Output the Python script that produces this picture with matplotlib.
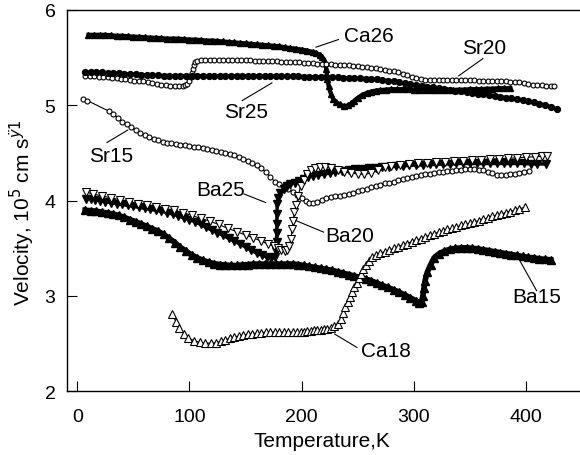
import numpy as np
import matplotlib
matplotlib.use("Agg")
import matplotlib.pyplot as plt

plt.rcParams['font.family'] = ['Liberation Sans', 'DejaVu Sans']

# Sound velocity vs temperature, (T [K], v [10^5 cm/s]) pairs per sample
ca26 = [(10, 5.74), (15, 5.74), (20, 5.74), (25, 5.74), (30, 5.735), (35, 5.73), (40, 5.73),
        (45, 5.725), (50, 5.72), (55, 5.72), (60, 5.715), (65, 5.71), (70, 5.71), (75, 5.705),
        (80, 5.70), (85, 5.70), (90, 5.70), (95, 5.695), (100, 5.69), (105, 5.69), (110, 5.685),
        (115, 5.68), (120, 5.68), (125, 5.675), (130, 5.67), (135, 5.665), (140, 5.66),
        (145, 5.655), (150, 5.65), (155, 5.645), (160, 5.64), (165, 5.635), (170, 5.63),
        (175, 5.625), (180, 5.62), (185, 5.61), (190, 5.60), (195, 5.595), (200, 5.585),
        (205, 5.575), (210, 5.56), (213, 5.55), (216, 5.53), (218, 5.51), (220, 5.48),
        (221, 5.44), (222, 5.38), (223, 5.28), (224, 5.20), (226, 5.12), (228, 5.07),
        (231, 5.03), (234, 5.01), (238, 4.99), (241, 5.00), (244, 5.02), (247, 5.05),
        (250, 5.08), (254, 5.11), (258, 5.13), (262, 5.145), (266, 5.155), (270, 5.16),
        (275, 5.165), (280, 5.17), (285, 5.17), (290, 5.17), (295, 5.17), (300, 5.165),
        (305, 5.165), (310, 5.16), (315, 5.16), (320, 5.16), (325, 5.16), (330, 5.16),
        (335, 5.16), (340, 5.165), (345, 5.165), (350, 5.17), (355, 5.17), (360, 5.17),
        (365, 5.175), (370, 5.175), (375, 5.18), (380, 5.18), (386, 5.18)]

sr20 = [(7, 5.31), (11, 5.31), (15, 5.305), (19, 5.30), (23, 5.30), (27, 5.295), (31, 5.29),
        (35, 5.285), (39, 5.28), (43, 5.275), (47, 5.27), (51, 5.26), (55, 5.255), (59, 5.25),
        (63, 5.24), (67, 5.235), (71, 5.225), (75, 5.215), (79, 5.21), (83, 5.205), (87, 5.20),
        (91, 5.20), (94, 5.205), (96, 5.21), (98, 5.225), (100, 5.26), (101, 5.30), (102, 5.34),
        (103, 5.38), (104, 5.42), (105, 5.45), (107, 5.47), (110, 5.475), (114, 5.48),
        (118, 5.48), (122, 5.48), (126, 5.48), (130, 5.48), (134, 5.48), (138, 5.478),
        (142, 5.476), (146, 5.475), (150, 5.474), (154, 5.472), (158, 5.47), (162, 5.468),
        (166, 5.466), (170, 5.464), (174, 5.462), (178, 5.46), (182, 5.458), (186, 5.456),
        (190, 5.454), (194, 5.452), (198, 5.45), (202, 5.447), (206, 5.444), (210, 5.44),
        (214, 5.437), (218, 5.434), (222, 5.432), (226, 5.43), (230, 5.428), (234, 5.426),
        (238, 5.424), (242, 5.42), (246, 5.416), (250, 5.412), (254, 5.407), (258, 5.402),
        (262, 5.396), (266, 5.39), (270, 5.382), (274, 5.374), (278, 5.365), (282, 5.355),
        (286, 5.345), (290, 5.333), (294, 5.318), (298, 5.30), (302, 5.283), (306, 5.272),
        (310, 5.268), (314, 5.267), (318, 5.267), (322, 5.266), (326, 5.266), (330, 5.265),
        (334, 5.265), (338, 5.265), (342, 5.265), (346, 5.264), (350, 5.263), (354, 5.262),
        (358, 5.26), (362, 5.255), (366, 5.25), (370, 5.25), (374, 5.252), (378, 5.252),
        (382, 5.25), (386, 5.248), (390, 5.245), (394, 5.24), (398, 5.232), (402, 5.225),
        (406, 5.218), (410, 5.213), (414, 5.208), (418, 5.205), (422, 5.202), (425, 5.20)]

sr25 = [(7, 5.35), (12, 5.35), (17, 5.345), (22, 5.345), (27, 5.34), (32, 5.34), (37, 5.335),
        (42, 5.33), (47, 5.33), (52, 5.325), (57, 5.32), (62, 5.32), (67, 5.315), (72, 5.315),
        (77, 5.31), (82, 5.31), (87, 5.31), (92, 5.31), (97, 5.31), (102, 5.31), (107, 5.31),
        (112, 5.31), (117, 5.31), (122, 5.31), (127, 5.31), (132, 5.31), (137, 5.31),
        (142, 5.31), (147, 5.31), (152, 5.31), (157, 5.31), (162, 5.31), (167, 5.31),
        (172, 5.305), (177, 5.305), (182, 5.305), (187, 5.305), (192, 5.305), (197, 5.305),
        (202, 5.30), (207, 5.30), (212, 5.30), (217, 5.30), (222, 5.298), (227, 5.295),
        (232, 5.293), (237, 5.29), (242, 5.288), (247, 5.286), (252, 5.283), (257, 5.28),
        (262, 5.276), (267, 5.272), (272, 5.266), (277, 5.258), (282, 5.25), (287, 5.241),
        (292, 5.232), (297, 5.223), (302, 5.214), (307, 5.205), (312, 5.196), (317, 5.188),
        (322, 5.18), (327, 5.172), (332, 5.163), (337, 5.155), (342, 5.147), (347, 5.139),
        (352, 5.131), (357, 5.123), (362, 5.115), (367, 5.107), (372, 5.099), (377, 5.09),
        (382, 5.082), (387, 5.073), (392, 5.064), (397, 5.054), (402, 5.043), (407, 5.031),
        (412, 5.018), (417, 5.002), (422, 4.985), (428, 4.96)]

sr15 = [(5, 5.07), (9, 5.05), (28, 4.94), (32, 4.91), (36, 4.87), (40, 4.83), (44, 4.80),
        (48, 4.77), (52, 4.74), (56, 4.71), (60, 4.69), (64, 4.67), (68, 4.65), (72, 4.635),
        (76, 4.62), (80, 4.61), (84, 4.60), (88, 4.59), (92, 4.585), (96, 4.58), (100, 4.575),
        (104, 4.565), (108, 4.56), (112, 4.55), (116, 4.54), (120, 4.53), (124, 4.52),
        (128, 4.51), (132, 4.50), (136, 4.49), (140, 4.475), (144, 4.46), (148, 4.44),
        (152, 4.42), (156, 4.39), (160, 4.37), (164, 4.34), (168, 4.30), (172, 4.25),
        (176, 4.20), (180, 4.17), (184, 4.15), (188, 4.12), (192, 4.09), (196, 4.06),
        (200, 4.03), (204, 4.00), (207, 3.98), (210, 3.975), (214, 3.99), (218, 4.01),
        (222, 4.03), (226, 4.04), (230, 4.045), (234, 4.05), (238, 4.055), (242, 4.07),
        (246, 4.085), (250, 4.10), (254, 4.11), (258, 4.125), (262, 4.14), (266, 4.15),
        (270, 4.165), (274, 4.18), (278, 4.19), (282, 4.20), (286, 4.215), (290, 4.225),
        (294, 4.235), (298, 4.245), (302, 4.255), (306, 4.265), (310, 4.275), (314, 4.28),
        (318, 4.29), (322, 4.30), (326, 4.305), (330, 4.31), (334, 4.315), (338, 4.32),
        (342, 4.325), (346, 4.33), (350, 4.33), (354, 4.33), (358, 4.325), (362, 4.32),
        (366, 4.30), (370, 4.285), (374, 4.27), (378, 4.265), (382, 4.27), (386, 4.275),
        (390, 4.28), (394, 4.29), (398, 4.30), (403, 4.31)]

ba25 = [(8, 4.02), (12, 4.02), (16, 4.01), (20, 4.00), (25, 3.99), (30, 3.98), (35, 3.97),
        (40, 3.96), (45, 3.95), (50, 3.94), (55, 3.93), (60, 3.92), (65, 3.91), (70, 3.90),
        (75, 3.89), (80, 3.875), (85, 3.86), (90, 3.84), (95, 3.82), (100, 3.80), (105, 3.78),
        (110, 3.75), (115, 3.72), (120, 3.69), (125, 3.665), (130, 3.635), (135, 3.605),
        (140, 3.575), (145, 3.545), (150, 3.515), (155, 3.48), (160, 3.45), (165, 3.425),
        (169, 3.41), (173, 3.40), (176, 3.41), (177.5, 3.47), (177.7, 3.57), (177.8, 3.66),
        (177.9, 3.76), (178, 3.86), (178.2, 3.96), (179, 4.03), (181, 4.08), (184, 4.12),
        (187, 4.15), (190, 4.17), (194, 4.19), (198, 4.21), (202, 4.23), (206, 4.245),
        (210, 4.26), (215, 4.27), (220, 4.28), (225, 4.29), (230, 4.30), (236, 4.31),
        (242, 4.32), (248, 4.33), (254, 4.335), (260, 4.34), (266, 4.345), (272, 4.35),
        (278, 4.355), (284, 4.36), (290, 4.365), (296, 4.37), (302, 4.375), (308, 4.375),
        (314, 4.38), (320, 4.38), (326, 4.385), (332, 4.385), (338, 4.39), (344, 4.39),
        (350, 4.39), (356, 4.39), (362, 4.39), (368, 4.39), (374, 4.39), (380, 4.39),
        (386, 4.39), (392, 4.39), (398, 4.39), (404, 4.385), (410, 4.385), (418, 4.385)]

ba20 = [(8, 4.09), (14, 4.07), (22, 4.05), (30, 4.03), (38, 4.01), (46, 3.99), (54, 3.97),
        (62, 3.95), (70, 3.935), (78, 3.915), (86, 3.90), (94, 3.875), (102, 3.845),
        (110, 3.815), (118, 3.785), (126, 3.75), (134, 3.71), (142, 3.675), (150, 3.64),
        (157, 3.61), (164, 3.575), (170, 3.545), (175, 3.52), (179, 3.50), (182, 3.485),
        (185, 3.47), (187, 3.48), (189, 3.52), (190.5, 3.60), (191.5, 3.70), (192.5, 3.79),
        (193.5, 3.88), (195, 3.95), (197, 4.05), (199, 4.15), (202, 4.22), (205, 4.28),
        (208, 4.32), (212, 4.34), (216, 4.35), (221, 4.35), (226, 4.34), (232, 4.32),
        (238, 4.30), (244, 4.29), (250, 4.28), (256, 4.275), (262, 4.29), (268, 4.32),
        (274, 4.35), (280, 4.365), (288, 4.375), (296, 4.385), (304, 4.39), (312, 4.40),
        (320, 4.405), (328, 4.41), (336, 4.415), (344, 4.42), (352, 4.425), (360, 4.43),
        (368, 4.435), (376, 4.44), (384, 4.445), (392, 4.45), (400, 4.455), (408, 4.46),
        (414, 4.465), (419, 4.47)]

ba15 = [(7, 3.90), (12, 3.895), (17, 3.89), (22, 3.88), (27, 3.87), (32, 3.86), (37, 3.845),
        (42, 3.825), (47, 3.80), (52, 3.78), (57, 3.755), (62, 3.73), (67, 3.705), (72, 3.68),
        (77, 3.645), (82, 3.605), (87, 3.56), (92, 3.51), (97, 3.47), (102, 3.43), (107, 3.40),
        (112, 3.375), (117, 3.355), (122, 3.34), (127, 3.33), (132, 3.325), (137, 3.32),
        (142, 3.32), (147, 3.325), (152, 3.33), (157, 3.335), (162, 3.335), (167, 3.335),
        (172, 3.335), (177, 3.335), (182, 3.335), (187, 3.335), (192, 3.335), (197, 3.33),
        (202, 3.32), (207, 3.31), (212, 3.30), (217, 3.29), (222, 3.28), (227, 3.27),
        (232, 3.255), (237, 3.24), (242, 3.225), (247, 3.21), (252, 3.195), (257, 3.18),
        (262, 3.16), (267, 3.135), (272, 3.11), (277, 3.09), (282, 3.065), (287, 3.04),
        (292, 3.01), (297, 2.98), (302, 2.95), (305, 2.93), (307, 2.935), (308, 3.00),
        (309, 3.08), (310, 3.16), (312, 3.25), (315, 3.33), (318, 3.40), (322, 3.44),
        (327, 3.47), (332, 3.49), (337, 3.50), (342, 3.505), (347, 3.505), (352, 3.50),
        (357, 3.495), (362, 3.485), (367, 3.475), (372, 3.465), (377, 3.455), (382, 3.445),
        (387, 3.435), (392, 3.425), (397, 3.415), (402, 3.405), (407, 3.40), (412, 3.39),
        (417, 3.385), (422, 3.38)]

ca18 = [(84.7, 2.81), (88, 2.73), (91, 2.66), (95, 2.60), (99, 2.56), (104, 2.53),
        (109, 2.515), (114, 2.505), (119, 2.505), (124, 2.51), (128, 2.525), (132, 2.54),
        (136, 2.555), (140, 2.57), (144, 2.58), (148, 2.59), (152, 2.60), (156, 2.605),
        (160, 2.61), (164, 2.615), (168, 2.62), (172, 2.62), (176, 2.62), (180, 2.62),
        (184, 2.62), (188, 2.62), (192, 2.62), (196, 2.62), (199, 2.62), (202, 2.625),
        (205, 2.63), (208, 2.635), (211, 2.64), (214, 2.64), (217, 2.645), (220, 2.65),
        (223, 2.655), (226, 2.66), (229, 2.68), (232, 2.71), (235, 2.76), (237, 2.82),
        (239, 2.88), (241, 2.94), (243, 2.99), (245, 3.04), (247, 3.09), (249, 3.14),
        (251, 3.19), (253, 3.235), (255, 3.28), (257, 3.32), (260, 3.37), (263, 3.41),
        (266, 3.43), (270, 3.45), (274, 3.465), (278, 3.48), (282, 3.50), (286, 3.515),
        (290, 3.535), (294, 3.55), (298, 3.57), (302, 3.585), (306, 3.60), (310, 3.62),
        (314, 3.635), (318, 3.65), (322, 3.67), (326, 3.685), (330, 3.70), (334, 3.71),
        (338, 3.725), (342, 3.74), (346, 3.75), (350, 3.765), (354, 3.78), (358, 3.79),
        (362, 3.805), (366, 3.82), (370, 3.835), (374, 3.85), (378, 3.86), (382, 3.875),
        (386, 3.885), (390, 3.90), (394, 3.915), (399, 3.93)]

# Curve labels: text, text anchor (T, v), leader line start and end
labels = [("Ca26", (238, 5.73), (212.8, 5.61), (232.8, 5.69)),
          ("Sr20", (343, 5.61), (340, 5.31), (361.5, 5.49)),
          ("Sr25", (131, 4.93), (147, 5.05), (173.5, 5.235)),
          ("Sr15", (10.3, 4.47), (26.5, 4.61), (45, 4.74)),
          ("Ba25", (106, 4.115), (148.6, 4.07), (168, 3.98)),
          ("Ba20", (221, 3.63), (195, 3.79), (219.6, 3.67)),
          ("Ba15", (388, 2.99), (394.5, 3.37), (409.4, 3.056)),
          ("Ca18", (252.6, 2.43), (229.5, 2.60), (249.3, 2.46))]

fig = plt.figure(figsize=(5.8, 4.56), dpi=100)
W, H = 580.0, 456.0
ax = fig.add_axes([66.7 / W, 1 - 392.3 / H, (W - 66.7) / W, (392.3 - 11) / H])

# filled series are drawn as dense bands: a thick trace under the markers
styles = [
    (ca26, 3.0, dict(marker='^', ms=5, mfc='black', mec='black')),
    (sr20, 0.8, dict(marker='o', ms=3.5, mfc='white', mec='black', mew=0.8)),
    (sr25, 2.5, dict(marker='o', ms=4.2, mfc='black', mec='black')),
    (sr15, 0.8, dict(marker='o', ms=3.6, mfc='white', mec='black', mew=0.8)),
    (ba15, 4.0, dict(marker='^', ms=5.5, mfc='black', mec='black')),
    (ba25, 2.5, dict(marker='v', ms=5.5, mfc='black', mec='black')),
    (ba20, 0.8, dict(marker='v', ms=5.5, mfc='white', mec='black', mew=0.8)),
    (ca18, 0.8, dict(marker='^', ms=5.5, mfc='white', mec='black', mew=0.8)),
]
for data, lw, st in styles:
    t, v = np.array(data).T
    ax.plot(t, v, color='black', lw=lw, **st)

for text, (tx, ty), p0, p1 in labels:
    ax.plot([p0[0], p1[0]], [p0[1], p1[1]], color='black', lw=0.8)
    ax.text(tx, ty, text, fontsize=15, ha='left', va='center')

ax.set_xlim(-9.4, 448.1)
ax.set_ylim(2, 6)
ax.set_xticks([0, 100, 200, 300, 400])
ax.set_yticks([2, 3, 4, 5, 6])
ax.spines['right'].set_visible(False)
for s in ['left', 'bottom', 'top']:
    ax.spines[s].set_linewidth(1.0)
ax.tick_params(axis='both', direction='in', length=7.5, width=0.8, labelsize=14)
ax.tick_params(axis='x', pad=12)
ax.tick_params(axis='y', pad=8)

ax.set_xlabel("Temperature,K", fontsize=15)
ax.xaxis.set_label_coords((322 - 66.7) / (W - 66.7), -(441.7 - 392.3) / (392.3 - 11), transform=ax.transAxes)
ax.xaxis.label.set_va('center')
ax.set_ylabel("Velocity, 10$^{5}$ cm s$^{ÿ1}$", fontsize=15)
ax.yaxis.set_label_coords(-(66.7 - 22) / (W - 66.7), (392.3 - 213) / (392.3 - 11))
ax.yaxis.label.set_va('center')

fig.savefig("out.png", dpi=100)
